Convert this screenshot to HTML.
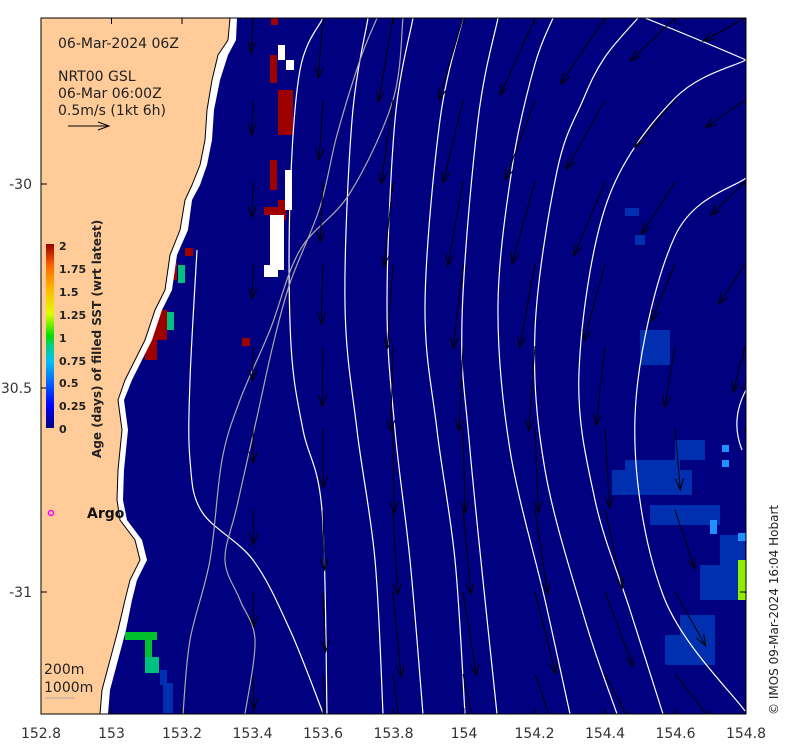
<!DOCTYPE html>
<html><head><meta charset="utf-8"><style>
body{margin:0;background:#fff;}
svg{display:block;font-family:"DejaVu Sans","Liberation Sans",sans-serif;}
</style></head><body>
<svg id="s" width="790" height="750" viewBox="0 0 790 750">
<defs>
<clipPath id="c"><rect x="41" y="18" width="705" height="696"/></clipPath>
<linearGradient id="cb" x1="0" y1="1" x2="0" y2="0">
<stop offset="0" stop-color="#00007f"/><stop offset="0.12" stop-color="#0000ff"/><stop offset="0.36" stop-color="#00bfff"/><stop offset="0.45" stop-color="#00d080"/><stop offset="0.5" stop-color="#00dd00"/><stop offset="0.62" stop-color="#ddff00"/><stop offset="0.75" stop-color="#ffbb00"/><stop offset="0.88" stop-color="#ff6600"/><stop offset="1" stop-color="#990000"/>
</linearGradient>
</defs>
<g clip-path="url(#c)">
<rect x="41" y="18" width="705" height="696" fill="#000080"/>
<g id="px"></g>
<polygon fill="#fff" points="41,18 237,18 236,40 228,55 220,80 214,110 212,140 207,165 200,185 192,200 188,230 177,255 172,290 162,310 152,340 132,380 124,400 128,430 124,470 123,500 127,520 142,540 147,560 137,580 132,600 126,630 118,660 110,690 108,714 41,714"/>
<polygon fill="#ffcc99" stroke="#000" stroke-width="1" points="41,18 230,18 228,40 218,55 212,80 207,110 205,140 200,165 192,185 185,200 180,230 170,255 165,290 155,310 145,340 125,380 118,400 122,430 118,470 117,500 120,520 135,540 140,560 130,580 125,600 118,630 110,660 102,690 100,714 41,714"/>
<g id="ct" fill="none" stroke="#fff" stroke-width="1.2"></g>
<g id="ar" stroke="#000" stroke-width="1" fill="none"></g>
</g>
<rect x="41" y="18" width="705" height="696" fill="none" stroke="#000" stroke-width="1"/>
<g id="tk" stroke="#000"></g>
<g font-size="14" fill="#222">
<text x="58" y="48">06-Mar-2024 06Z</text>
<text x="58" y="81">NRT00 GSL</text>
<text x="58" y="98">06-Mar 06:00Z</text>
<text x="58" y="115">0.5m/s (1kt 6h)</text>
<text x="44" y="674">200m</text>
<text x="44" y="692">1000m</text>
</g>
<line x1="68" y1="126" x2="109" y2="126" stroke="#000"/><path d="M98,122 L109,126 L98,130" stroke="#000" fill="none"/>
<line x1="45" y1="698" x2="75" y2="698" stroke="#aaa"/>
<circle cx="51" cy="513" r="2.5" fill="none" stroke="#f0f" stroke-width="1.5"/>
<text x="87" y="518" font-size="14" font-weight="bold" fill="#111">Argo</text>
<rect x="46" y="244" width="8" height="184" fill="url(#cb)"/>
<g font-size="11" font-weight="bold" fill="#222">
<text x="59" y="250">2</text><text x="59" y="273">1.75</text><text x="59" y="296">1.5</text><text x="59" y="319">1.25</text><text x="59" y="342">1</text><text x="59" y="365">0.75</text><text x="59" y="387">0.5</text><text x="59" y="410">0.25</text><text x="59" y="433">0</text>
<text transform="translate(101,458) rotate(-90)" font-size="12">Age (days) of filled SST (wrt latest)</text>
</g>
<g font-size="14" fill="#333" text-anchor="middle" id="xl"></g>
<g font-size="14" fill="#333" text-anchor="end">
<text x="32" y="189">-30</text><text x="32" y="393">-30.5</text><text x="32" y="597">-31</text>
</g>
<text transform="translate(778,715) rotate(-90)" font-size="12" fill="#222">© IMOS 09-Mar-2024 16:04 Hobart</text>
</svg>
<script>
var NS="http://www.w3.org/2000/svg";
function el(p,t,a){var e=document.createElementNS(NS,t);for(var k in a)e.setAttribute(k,a[k]);document.getElementById(p).appendChild(e);return e;}
function R(x,y,w,h,c){el("px","rect",{x:x,y:y,width:w,height:h,fill:c});}
var red="#9e0000";
[[271,18,7,7],[270,55,7,28],[278,90,15,45],[270,160,7,30],[264,207,20,8],[278,200,8,20],[242,338,8,8],[285,180,7,18],[185,248,8,8],[152,310,15,30],[145,340,12,20],[170,262,7,18]].forEach(function(a){R(a[0],a[1],a[2],a[3],red);});
[[278,45,7,15],[285,170,7,40],[270,215,14,55],[264,265,14,12],[286,60,8,10]].forEach(function(a){R(a[0],a[1],a[2],a[3],"#fff");});
R(178,265,7,18,"#00c080");R(167,312,7,18,"#00c080");R(125,632,32,8,"#00c030");R(145,632,7,30,"#00c030");R(145,657,14,16,"#00c080");R(112,648,7,8,red);
var bl="#0030b0";
[[612,470,80,25],[625,460,55,12],[640,330,30,35],[665,635,45,30],[680,615,35,50],[700,565,45,35],[720,535,25,35],[650,505,50,20],[675,440,30,20],[700,505,20,20],[625,208,14,8],[635,235,10,10],[160,670,7,15],[163,683,10,30]].forEach(function(a){R(a[0],a[1],a[2],a[3],bl);});
R(738,560,8,40,"#90ee00");R(722,445,7,7,"#1e90ff");R(722,460,7,7,"#1e90ff");R(710,520,7,14,"#1e90ff");R(738,533,8,8,"#1e90ff");
function smooth(P){var d="M"+P[0][0]+","+P[0][1];for(var i=0;i<P.length-1;i++){var p0=P[i-1]||P[i],p1=P[i],p2=P[i+1],p3=P[i+2]||p2;
var c1=[p1[0]+(p2[0]-p0[0])/6,p1[1]+(p2[1]-p0[1])/6],c2=[p2[0]-(p3[0]-p1[0])/6,p2[1]-(p3[1]-p1[1])/6];
d+=" C"+c1[0].toFixed(1)+","+c1[1].toFixed(1)+" "+c2[0].toFixed(1)+","+c2[1].toFixed(1)+" "+p2[0]+","+p2[1];}return d;}
var L=[
[[323,18],[300,70],[290,200],[291,345],[303,430],[322,510],[327,714]],
[[368,18],[352,120],[345,305],[357,430],[375,560],[383,714]],
[[413,18],[395,120],[387,305],[395,430],[410,560],[423,714]],
[[463,18],[440,120],[425,305],[437,430],[455,560],[465,714]],
[[498,18],[478,120],[462,320],[470,450],[497,714]],
[[553,18],[535,64],[513,162],[498,305],[510,450],[545,600],[570,714]],
[[638,18],[605,57],[583,100],[557,171],[535,330],[545,470],[585,620],[617,714]],
[[746,60],[675,98],[607,202],[579,372],[595,500],[630,610],[663,714]],
[[746,178],[675,236],[635,417],[663,595],[745,711]],
[[197,250],[190,380],[190,460],[202,512],[253,560],[290,630],[323,713]]
];
L.forEach(function(P){el("ct","path",{d:smooth(P)});});
el("ct","path",{d:"M645,18 Q700,40 746,60"});
el("ct","path",{d:"M746,390 Q730,420 742,450"});
el("ct","path",{d:smooth([[377,18],[360,60],[337,135],[320,207],[290,283],[273,345],[257,417],[237,506],[225,560],[240,600],[255,640],[245,714]]),stroke:"#aaa"});
el("ct","path",{d:smooth([[403,18],[393,100],[350,193],[300,250],[270,330],[240,400],[222,460],[210,560],[190,640],[183,714]]),stroke:"#aaa"});
var cols=[253,323,393,463,535,605,675,745],lens=[35,60,85,85,85,80,62,48];
for(var i=0;i<cols.length;i++)for(var j=0;j<9;j++){
var x=cols[i],y=18+j*82;
var rx=x-950,ry=y-400,tx=ry,ty=-rx;
var th=Math.atan2(tx,ty);var w=Math.min(1,Math.max(0.1,(x-250)/500));th*=w;
var len=lens[i];var x2=x+Math.sin(th)*len,y2=y+Math.cos(th)*len;
el("ar","line",{x1:x,y1:y,x2:x2.toFixed(1),y2:y2.toFixed(1)});
var ang=Math.atan2(y2-y,x2-x);
el("ar","path",{d:"M"+(x2-12*Math.cos(ang-0.35)).toFixed(1)+","+(y2-12*Math.sin(ang-0.35)).toFixed(1)+" L"+x2.toFixed(1)+","+y2.toFixed(1)+" L"+(x2-12*Math.cos(ang+0.35)).toFixed(1)+","+(y2-12*Math.sin(ang+0.35)).toFixed(1)});
}
var xs=[152.8,153,153.2,153.4,153.6,153.8,154,154.2,154.4,154.6,154.8];
xs.forEach(function(v,k){var x=41+k*70.5;el("tk","line",{x1:x,y1:714,x2:x,y2:708});el("tk","line",{x1:x,y1:18,x2:x,y2:24});var t=el("xl","text",{x:x,y:738});t.textContent=String(v);});
[184,388,592].forEach(function(y){el("tk","line",{x1:41,y1:y,x2:47,y2:y});el("tk","line",{x1:746,y1:y,x2:740,y2:y});});
</script>
</body></html>
